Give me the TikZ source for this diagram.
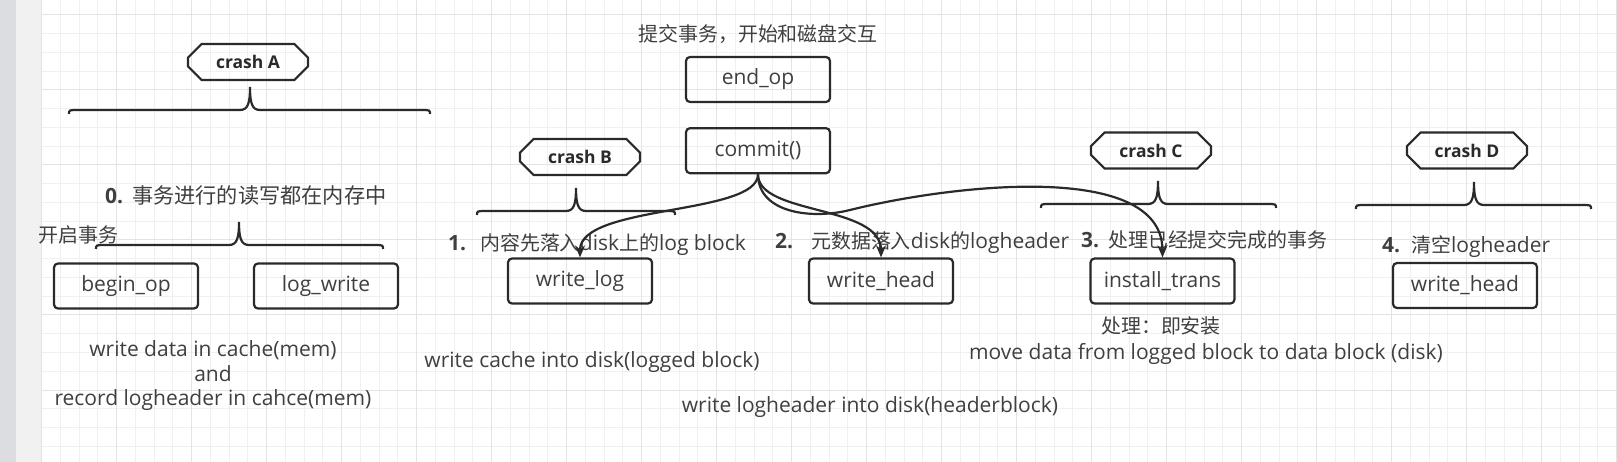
\documentclass[tikz,border=0pt]{standalone}
\usepackage{fontspec}
\setmainfont{Open Sans}
\newfontfamily\cjk[Scale=0.95]{Noto Sans CJK SC}
\usetikzlibrary{positioning,shapes.misc,arrows.meta}

\definecolor{ink}{HTML}{2A2A2A}
\definecolor{gridminor}{HTML}{F0F0F0}
\definecolor{gridmajor}{HTML}{E3E3E3}
\definecolor{sidebar}{HTML}{F1F1F1}
\definecolor{sidedark}{HTML}{DCDDE0}

% curly brace: left x, right x, tip x, tip y
\newcommand{\crashbrace}[4]{%
  \draw[brace line] (#1,#4+27) .. controls (#1,#4+23) .. (#1+10,#4+23) -- (#3-10,#4+23)
    .. controls (#3-2,#4+23) and (#3,#4+16) .. (#3,#4)
    .. controls (#3,#4+16) and (#3+2,#4+23) .. (#3+10,#4+23) -- (#2-10,#4+23)
    .. controls (#2,#4+23) .. (#2,#4+27);}

\begin{document}
\begin{tikzpicture}[x=1pt,y=-1pt,
  opbox/.style={draw=ink, line width=2.2pt, rounded corners=4pt, minimum width=144pt,
    minimum height=45pt, text=ink!90, font=\fontsize{21}{25}\selectfont},
  crashbox/.style={chamfered rectangle, chamfered rectangle xsep=12pt, draw=ink,
    line width=2.2pt, minimum width=120pt, minimum height=36pt, text=ink,
    font=\fontsize{17.5}{20}\selectfont\bfseries},
  note/.style={text=ink!90, font=\fontsize{21}{24.5}\selectfont, inner sep=0pt, align=center},
  brace line/.style={draw=ink, line width=2.2pt},
  flow/.style={draw=ink, line width=2.2pt, -{Stealth[length=12pt,width=10pt]}}]
  \useasboundingbox (0,0) rectangle (1617,462);

  % canvas background
  \fill[sidedark] (0,0) rectangle (16,462);
  \fill[sidebar] (16,0) rectangle (42,462);
  \foreach \k in {0,...,84} \draw[gridminor, line width=1pt] ({41.7+18.75*\k},0) -- ++(0,462);
  \foreach \k in {0,...,23} \draw[gridminor, line width=1pt] (42,{15+18.75*\k}) -- (1617,{15+18.75*\k});
  \foreach \k in {0,...,21} \draw[gridmajor, line width=1pt] ({41.7+75*\k},0) -- ++(0,462);
  \foreach \k in {0,...,5} \draw[gridmajor, line width=1pt] (42,{15+75*\k}) -- (1617,{15+75*\k});

  % step 0: in memory
  \node[crashbox] (crashA) at (248,62) {crash A};
  \crashbrace{69}{430}{250}{87}
  \node[note, anchor=west] (step0) at (105,195) {\textbf{0.}\hspace{9pt}{\cjk\fontsize{22.3}{24}\selectfont 事务进行的读写都在内存中}};
  \crashbrace{96}{383}{239}{222}
  \node[note] (opencn) at (78.5,235) {\cjk 开启事务};
  \node[opbox] (begin_op) at (126,286) {begin\_op};
  \node[opbox] (log_write) at (326,286) {log\_write};
  \node[note] (cachenote) at (213,376) {write data in cache(mem)\\and\\record logheader in cahce(mem)};

  % commit
  \node[opbox] (end_op) at (758,79.5) {end\_op};
  \node[note, above=12pt of end_op] (title) {\cjk 提交事务，开始和磁盘交互};
  \node[opbox, below=24pt of end_op] (commit) {commit()};

  % step 1: log block
  \node[crashbox] (crashB) at (580,157) {crash B};
  \crashbrace{477}{675}{576}{188}
  \node[note, anchor=west] (step1) at (448,245) {\textbf{1.}\hspace{14pt}{\cjk 内容先落入}disk{\cjk 上的}log block};
  \node[opbox] (write_log) at (580,281) {write\_log};
  \node[note] (lognote) at (592,362) {write cache into disk(logged block)};

  % step 2: log header
  \node[note, anchor=west] (step2) at (775,243) {\textbf{2.}\hspace{18pt}{\cjk 元数据落入}disk{\cjk 的}logheader};
  \node[opbox] (write_head) at (881,281) {write\_head};
  \node[note] (headnote) at (870,407) {write logheader into disk(headerblock)};

  % step 3: install
  \node[crashbox] (crashC) at (1151,150.5) {crash C};
  \crashbrace{1041}{1276}{1158}{181}
  \node[note, anchor=west] (step3) at (1081,240) {\textbf{3.}\hspace{9pt}{\cjk 处理已经提交完成的事务}};
  \node[opbox] (install_trans) at (1162.5,281) {install\_trans};
  \node[note] (installcn) at (1161,326) {\cjk 处理：即安装};
  \node[note] (movenote) at (1206,354) {move data from logged block to data block (disk)};

  % step 4: clear header
  \node[crashbox] (crashD) at (1467,150.5) {crash D};
  \crashbrace{1356}{1591}{1474}{182}
  \node[note, anchor=west] (step4) at (1382,247) {\textbf{4.}\hspace{11pt}{\cjk 清空}logheader};
  \node[opbox] (write_head2) at (1465,285.5) {write\_head};

  % commit fans out
  \coordinate (dip) at (850,210);
  \draw[flow] (commit.south) .. controls +(0,41) and +(0,-53) .. (write_log.north);
  \draw[flow] (commit.south) .. controls +(0,41) and +(0,-53) .. (write_head.north);
  \draw[flow] (commit.south) .. controls +(0,38) and (810,220) .. (dip)
    .. controls (950,185) and (1162,160) .. (install_trans.north);
\end{tikzpicture}
\end{document}
